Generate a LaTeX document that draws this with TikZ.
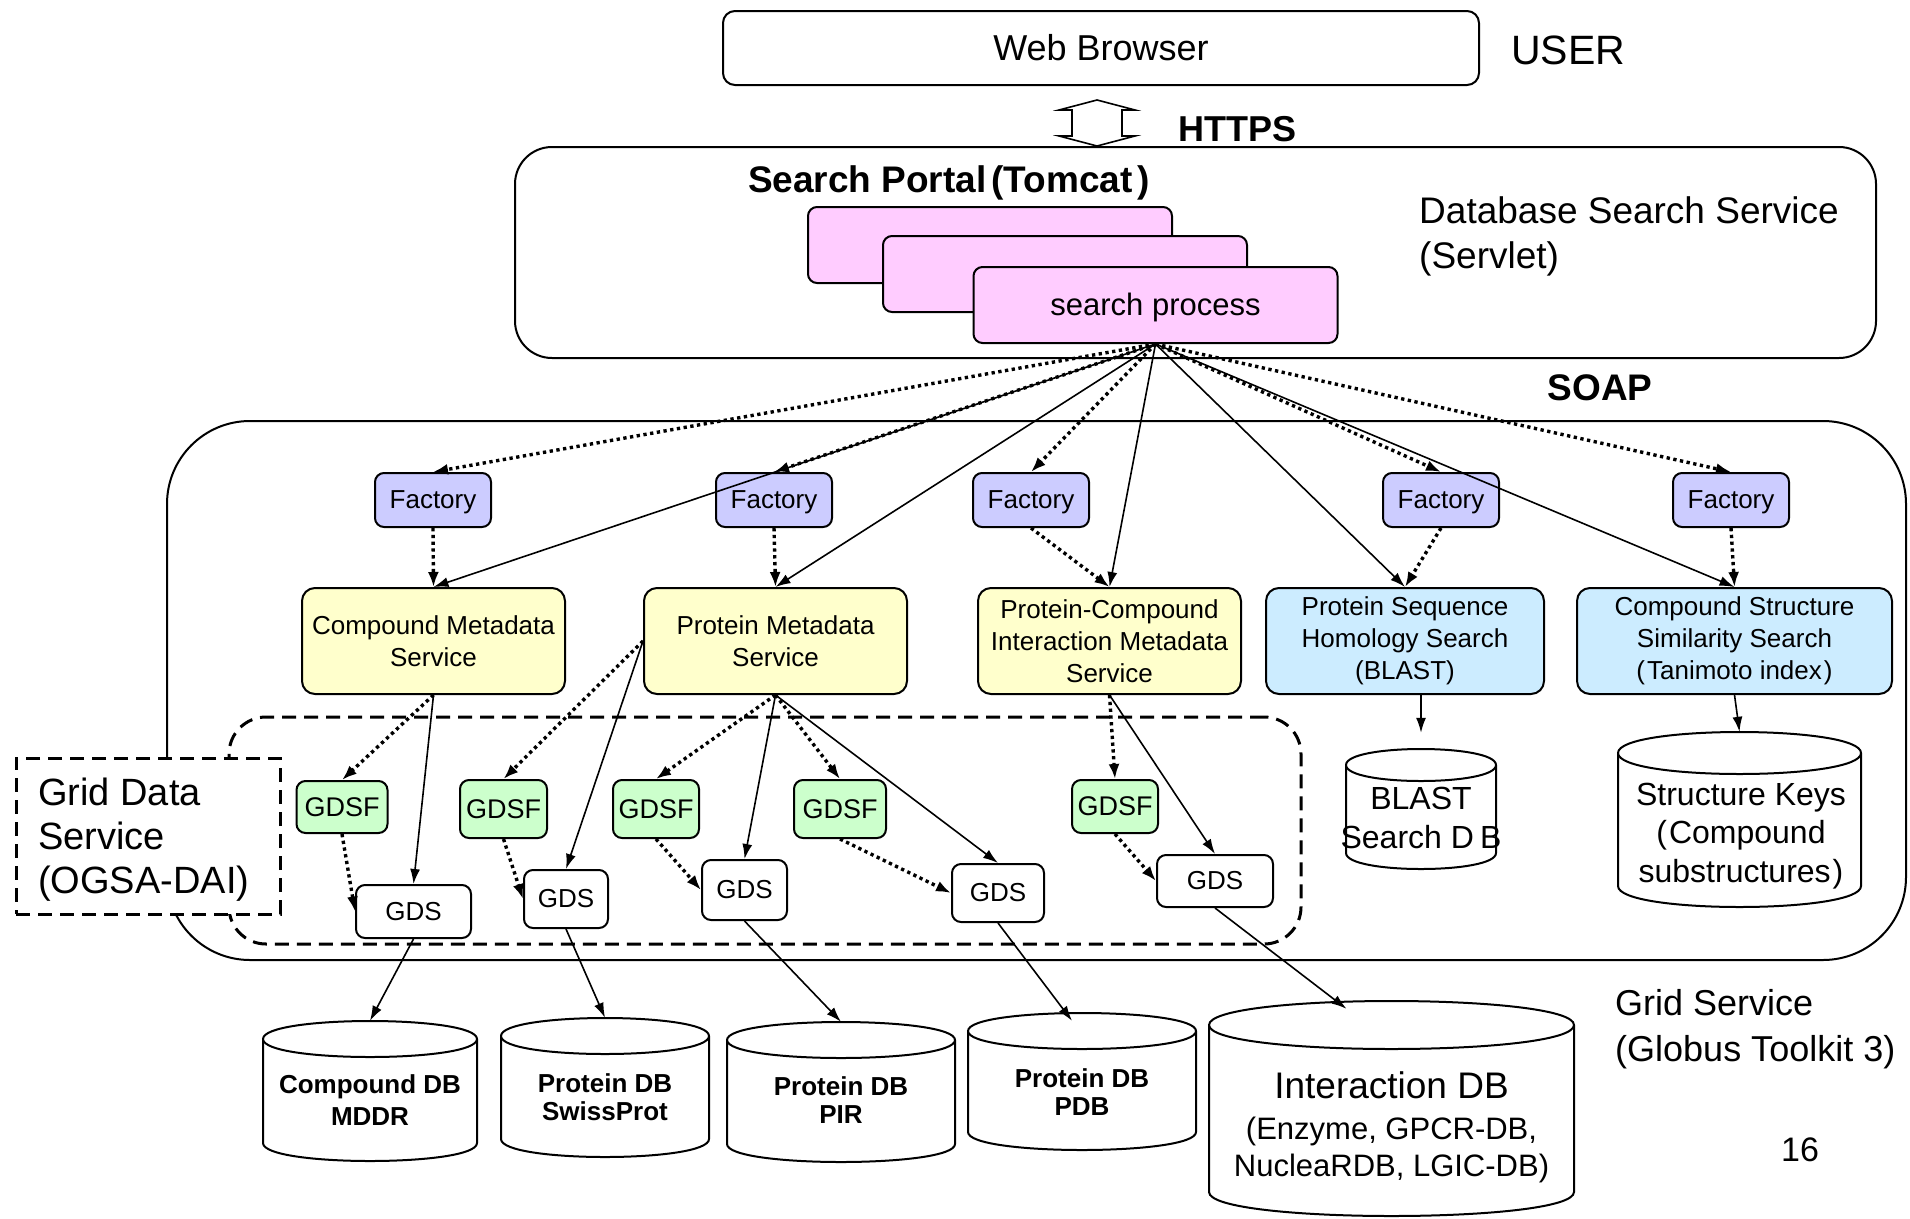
\documentclass[tikz,border=0pt]{standalone}
\usepackage{fontspec}
\setmainfont{Liberation Sans}
\usetikzlibrary{arrows.meta,calc}

\definecolor{facfill}{HTML}{CCCCFF}
\definecolor{metafill}{HTML}{FFFFCC}
\definecolor{srchfill}{HTML}{CCECFF}
\definecolor{gdsffill}{HTML}{CCFFCC}
\definecolor{procfill}{HTML}{FFCCFF}

\newcommand{\fsz}[2]{\fontsize{#1}{#2}\selectfont}

% database cylinder: name, centre x, top y, bottom y, half width, ellipse radius
\newcommand{\dbcyl}[6]{%
  \filldraw[cyl] ({#2-#5},{#3+#6}) -- ({#2-#5},{#4-#6})
    .. controls ({#2-#5},{#4+#6/3}) and ({#2+#5},{#4+#6/3}) .. ({#2+#5},{#4-#6})
    -- ({#2+#5},{#3+#6})
    .. controls ({#2+#5},{#3-#6/3}) and ({#2-#5},{#3-#6/3}) .. cycle;
  \draw[cyl] ({#2-#5},{#3+#6})
    .. controls ({#2-#5},{#3+#6*7/3}) and ({#2+#5},{#3+#6*7/3}) .. ({#2+#5},{#3+#6});
  \node[inner sep=0pt, minimum width={2*#5}, minimum height={#4-#3}] (#1) at ({#2},{(#3+#4)/2}) {};
}

\tikzset{
  box/.style={draw, line width=2pt, rounded corners=9pt, align=center, inner sep=0pt},
  % single-line labels: fixed ascent/descent so the text sits as in a line box
  oneline/.style={text height={0.9*#1}, text depth={0.21*#1}},
  fac/.style={box, oneline=26pt, fill=facfill, minimum width=116pt, minimum height=54pt, font={\fsz{26}{32}}},
  meta/.style={box, fill=metafill, rounded corners=13pt, minimum height=106pt, font={\fsz{26}{32}}},
  srch/.style={meta, fill=srchfill},
  gdsf/.style={box, oneline=27pt, fill=gdsffill, font={\fsz{27}{32}}},
  gds/.style={box, oneline=26pt, fill=white, font={\fsz{26}{32}}},
  proc/.style={box, oneline=31pt, fill=procfill, minimum width=364pt, minimum height=76pt, font={\fsz{31}{37}}},
  cyl/.style={line width=2pt, fill=white},
  dblabel/.style={align=center, inner sep=0pt, font={\fsz{26}{28}\bfseries}},
  dashbox/.style={line width=3pt, dash pattern=on 14pt off 8pt},
  solarr/.style={line width=1.6pt, -{Latex[length=15pt,width=10pt]}},
  dotarr/.style={line width=3.4pt, dash pattern=on 3.3pt off 3.5pt, -{Latex[length=15pt,width=11pt]}},
  txt/.style={inner sep=0pt, align=left},
}

\begin{document}
\begin{tikzpicture}[x=1pt, y=-1pt]
\useasboundingbox[fill=white] (0,0) rectangle (1910,1218);

% ---- user tier ----
\node[box, oneline=36pt, fill=white, rounded corners=12pt, minimum width=756pt, minimum height=74pt,
      font={\fsz{36}{43}}] (browser) at (1101,48) {Web Browser};
\node[txt, font={\fsz{41}{48}}] (user) at (1568,50) {USER};

% HTTPS double arrow
\draw[line width=1.6pt, fill=white, line join=miter]
  (1097,100) -- (1135,110) -- (1122,110) -- (1122,136) -- (1135,136) -- (1097,146)
  -- (1059,136) -- (1072,136) -- (1072,110) -- (1059,110) -- cycle;
\node[txt, font={\fsz{36}{43}\bfseries}] (https) at (1237,129) {HTTPS};

% ---- portal tier ----
\node[draw, line width=2pt, rounded corners=37pt, minimum width=1361pt, minimum height=211pt]
  (portal) at (1195.5,252.5) {};
\node[txt, font={\fsz{37}{44}\bfseries}] (portaltitle) at (949,183)
  {Search Portal\hspace{5pt}(Tomcat\hspace{5pt})};
\node[txt, anchor=west, font={\fsz{37}{45}}] (servlet) at (1419,236)
  {Database Search Service\\(Servlet)};
\node[proc] (pb1) at (990,245) {};
\node[proc] (pb2) at (1065,274) {};
\node[proc] (sp) at (1155.5,305) {search process};
\node[txt, font={\fsz{37}{44}\bfseries}] (soap) at (1600,388) {SOAP};

% ---- grid service tier ----
\node[draw, line width=2pt, rounded corners=83pt, minimum width=1739pt, minimum height=539pt]
  (grid) at (1036.5,690.5) {};
\node[draw, dashbox, rounded corners=37pt, minimum width=1072pt, minimum height=227pt]
  (ogsadai) at (765,830.5) {};
\node[draw, dashbox, fill=white, minimum width=264pt, minimum height=156pt] (gdsbox) at (148,836) {};
\node[txt, anchor=west, font={\fsz{38}{44}}] (gdslabel) at (38,840) {Grid Data\\Service\\(OGSA-DAI)};

% factories
\node[fac] (f1) at (433,500) {Factory};
\node[fac] (f2) at (774,500) {Factory};
\node[fac] (f3) at (1031,500) {Factory};
\node[fac] (f4) at (1441,500) {Factory};
\node[fac] (f5) at (1731,500) {Factory};

% services
\node[meta, minimum width=263pt] (s1) at (433.5,641) {Compound Metadata\\Service};
\node[meta, minimum width=263pt] (s2) at (775.5,641) {Protein Metadata\\Service};
\node[meta, minimum width=263pt] (s3) at (1109.5,641) {Protein-Compound\\Interaction Metadata\\Service};
\node[srch, minimum width=278pt] (s4) at (1405,641) {Protein Sequence\\Homology Search\\(BLAST)};
\node[srch, minimum width=315pt] (s5) at (1734.5,641)
  {Compound Structure\\Similarity Search\\(\hspace{2pt}Tanimoto index\hspace{2pt})};

% grid data service factories and instances
\node[gdsf, minimum width=91pt, minimum height=52pt] (g1) at (342,807) {GDSF};
\node[gdsf, minimum width=87pt, minimum height=58pt] (g2) at (503.5,809) {GDSF};
\node[gdsf, minimum width=86pt, minimum height=58pt] (g3) at (656,809) {GDSF};
\node[gdsf, minimum width=92pt, minimum height=58pt] (g4) at (840,809) {GDSF};
\node[gdsf, minimum width=86pt, minimum height=53pt] (g5) at (1115,806.5) {GDSF};

\node[gds, minimum width=115pt, minimum height=53pt] (d1) at (413.5,911.5) {GDS};
\node[gds, minimum width=84pt, minimum height=58pt] (d2) at (566,899) {GDS};
\node[gds, minimum width=85pt, minimum height=60pt] (d3) at (744.5,890) {GDS};
\node[gds, minimum width=92pt, minimum height=58pt] (d4) at (998,893) {GDS};
\node[gds, minimum width=116pt, minimum height=52pt] (d5) at (1215,881) {GDS};

% search databases inside the grid service
\dbcyl{blast}{1421}{749}{869}{75}{16}
\node[txt, align=center, font={\fsz{32}{39}}] (blastlabel) at (1421,818)
  {BLAST\\Search\hspace{9pt}D\hspace{6pt}B};
\dbcyl{skeys}{1739.5}{732}{907}{121.5}{21}
\node[txt, align=center, font={\fsz{32}{38.5}}] (skeyslabel) at (1741,836)
  {Structure Keys\\(\hspace{2pt}Compound\\substructures\hspace{2pt})};

% ---- databases ----
\dbcyl{db1}{370}{1021}{1161}{107}{18}
\node[dblabel, font={\fsz{26}{32}\bfseries}] (db1label) at (370,1100) {Compound DB\\MDDR};
\dbcyl{db2}{605}{1018}{1157}{104}{18}
\node[dblabel] (db2label) at (605,1097) {Protein DB\\SwissProt};
\dbcyl{db3}{841}{1022}{1162}{114}{18}
\node[dblabel] (db3label) at (841,1100) {Protein DB\\PIR};
\dbcyl{db4}{1082}{1013}{1150}{114}{18}
\node[dblabel] (db4label) at (1082,1092) {Protein DB\\PDB};
\dbcyl{db5}{1391.5}{1001}{1216}{182.5}{24}
\node[txt, align=center, font={\fsz{37}{44}}] (db5title) at (1391.5,1085) {Interaction DB};
\node[txt, align=center, font={\fsz{31}{37}}] (db5list) at (1391.5,1150)
  {(Enzyme, GPCR-DB,\\NucleaRDB, LGIC-DB)};

\node[txt, anchor=west, font={\fsz{36}{46}}] (gridlabel) at (1615,1029)
  {Grid Service\\(Globus Toolkit 3)};
\node[txt, font={\fsz{34}{40}}] (pagenum) at (1800,1150) {16};

% ---- connectors ----
\coordinate (hub) at (sp.south);
\foreach \f in {f1,f2,f3,f4,f5} \draw[dotarr] (hub) -- (\f.north);
\foreach \s in {s1,s2,s3,s4,s5} \draw[solarr] (hub) -- (\s.north);
\draw[dotarr] (f1.south) -- (s1.north);
\draw[dotarr] (f2.south) -- (s2.north);
\draw[dotarr] (f3.south) -- (s3.north);
\draw[dotarr] (f4.south) -- (s4.north);
\draw[dotarr] (f5.south) -- (s5.north);

\draw[dotarr] (s1.south) -- (g1.north);
\draw[solarr] (s1.south) -- (d1.north);
\draw[dotarr] (s2.west) -- (g2.north);
\draw[solarr] (s2.west) -- (d2.north);
\draw[dotarr] (s2.south) -- (g3.north);
\draw[solarr] (s2.south) -- (d3.north);
\draw[dotarr] (s2.south) -- (g4.north);
\draw[solarr] (s2.south) -- (d4.north);
\draw[dotarr] (s3.south) -- (g5.north);
\draw[solarr] (s3.south) -- (d5.north);

\draw[dotarr] (g1.south) -- (d1.west);
\draw[dotarr] (g2.south) -- (d2.west);
\draw[dotarr] (g3.south) -- (d3.west);
\draw[dotarr] (g4.south) -- (d4.west);
\draw[dotarr] (g5.south) -- (d5.west);

\draw[solarr] (d1.south) -- (db1.north);
\draw[solarr] (d2.south) -- (db2.north);
\draw[solarr] (d3.south) -- (db3.north);
\draw[solarr] (d4.south) -- ($(db4.north)+(-10,8)$);
\draw[solarr] (d5.south) -- ($(db5.north)+(-45,8)$);

\draw[solarr] ($(s4.south)+(16,0)$) -- ($(blast.north)+(0,-16)$);
\draw[solarr] (s5.south) -- (skeys.north);
\end{tikzpicture}
\end{document}
